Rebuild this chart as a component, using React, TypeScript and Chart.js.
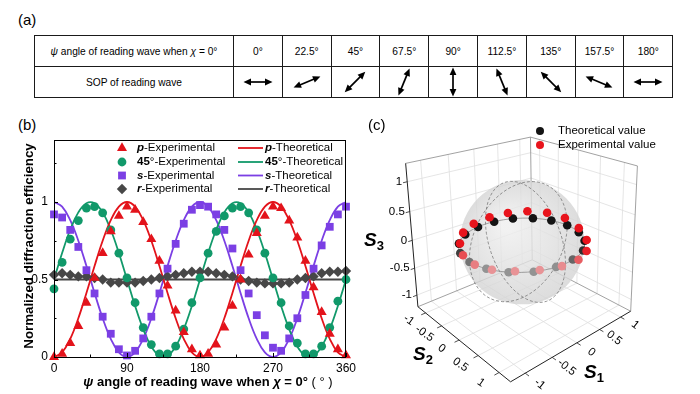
import React, { useEffect, useRef } from "react";
import { Chart, registerables } from "chart.js";

Chart.register(...registerables);

const FONT = "'Liberation Sans', Arial, Helvetica, sans-serif";

// ---------------- (a) table ----------------
const tablePsiLabels = ["0°", "22.5°", "45°", "67.5°", "90°", "112.5°", "135°", "157.5°", "180°"];
const tableSopDeg = [0, 22.5, 45, 67.5, 90, 112.5, 135, 157.5, 180];

// ---------------- (b) diffraction efficiency ----------------
const psiDeg = [0, 10, 20, 30, 40, 50, 60, 70, 80, 90, 100, 110, 120, 130, 140, 150, 160, 170, 180, 190, 200, 210, 220, 230, 240, 250, 260, 270, 280, 290, 300, 310, 320, 330, 340, 350, 360];
const pExp = [0.0, 0.02, 0.09, 0.2, 0.35, 0.51, 0.67, 0.81, 0.91, 0.97, 0.95, 0.87, 0.76, 0.62, 0.46, 0.3, 0.16, 0.05, 0.01, 0.02, 0.08, 0.19, 0.33, 0.5, 0.66, 0.8, 0.91, 0.97, 0.96, 0.88, 0.77, 0.62, 0.45, 0.29, 0.15, 0.05, 0.01];
const d45Exp = [0.44, 0.61, 0.76, 0.88, 0.96, 0.97, 0.93, 0.82, 0.67, 0.51, 0.35, 0.19, 0.08, 0.02, 0.02, 0.07, 0.18, 0.35, 0.51, 0.67, 0.81, 0.91, 0.96, 0.97, 0.93, 0.82, 0.67, 0.51, 0.35, 0.2, 0.09, 0.02, 0.02, 0.07, 0.19, 0.36, 0.5];
const sExp = [0.92, 0.9, 0.82, 0.71, 0.56, 0.41, 0.26, 0.15, 0.05, 0.01, 0.04, 0.12, 0.26, 0.41, 0.57, 0.73, 0.86, 0.95, 0.98, 0.97, 0.92, 0.82, 0.7, 0.56, 0.41, 0.27, 0.14, 0.06, 0.04, 0.12, 0.25, 0.4, 0.57, 0.72, 0.84, 0.92, 0.97];
const rExp = [0.53, 0.54, 0.53, 0.52, 0.52, 0.51, 0.5, 0.48, 0.48, 0.48, 0.48, 0.49, 0.5, 0.51, 0.52, 0.53, 0.54, 0.55, 0.55, 0.55, 0.54, 0.53, 0.52, 0.5, 0.49, 0.48, 0.475, 0.475, 0.475, 0.48, 0.5, 0.51, 0.52, 0.54, 0.55, 0.55, 0.555];
const pTheo = [0, 0.03, 0.117, 0.25, 0.413, 0.587, 0.75, 0.883, 0.97, 1, 0.97, 0.883, 0.75, 0.587, 0.413, 0.25, 0.117, 0.03, 0, 0.03, 0.117, 0.25, 0.413, 0.587, 0.75, 0.883, 0.97, 1, 0.97, 0.883, 0.75, 0.587, 0.413, 0.25, 0.117, 0.03, 0];
const d45Theo = [0.5, 0.671, 0.821, 0.933, 0.992, 0.992, 0.933, 0.821, 0.671, 0.5, 0.329, 0.179, 0.067, 0.008, 0.008, 0.067, 0.179, 0.329, 0.5, 0.671, 0.821, 0.933, 0.992, 0.992, 0.933, 0.821, 0.671, 0.5, 0.329, 0.179, 0.067, 0.008, 0.008, 0.067, 0.179, 0.329, 0.5];
const sTheo = [1, 0.97, 0.883, 0.75, 0.587, 0.413, 0.25, 0.117, 0.03, 0, 0.03, 0.117, 0.25, 0.413, 0.587, 0.75, 0.883, 0.97, 1, 0.97, 0.883, 0.75, 0.587, 0.413, 0.25, 0.117, 0.03, 0, 0.03, 0.117, 0.25, 0.413, 0.587, 0.75, 0.883, 0.97, 1];
const rTheoPsi = [0, 360];
const rTheo = [0.5, 0.5];
const xTicksB = [0, 90, 180, 270, 360];
const yTicksB = [0, 0.5, 1];

// ---------------- (c) Poincaré sphere ----------------
const theoS1 = [1, 0.94, 0.77, 0.5, 0.17, -0.17, -0.5, -0.77, -0.94, -1, -0.94, -0.77, -0.5, -0.17, 0.17, 0.5, 0.77, 0.94];
const theoS2 = [0, 0.34, 0.64, 0.87, 0.98, 0.98, 0.87, 0.64, 0.34, 0, -0.34, -0.64, -0.87, -0.98, -0.98, -0.87, -0.64, -0.34];
const theoS3 = [0, 0, 0, 0, 0, 0, 0, 0, 0, 0, 0, 0, 0, 0, 0, 0, 0, 0];
const expS1 = [1.03, 1.01, 0.86, 0.6, 0.27, -0.09, -0.43, -0.71, -0.9, -0.97, -0.95, -0.8, -0.57, -0.26, 0.09, 0.43, 0.72, 0.93];
const expS2 = [-0.09, 0.27, 0.6, 0.85, 1.0, 1.02, 0.92, 0.71, 0.42, 0.09, -0.25, -0.56, -0.82, -0.97, -1.0, -0.92, -0.73, -0.44];
const expS3 = [0.1, 0.03, -0.03, -0.05, -0.03, 0.0, 0.02, 0.02, 0.0, -0.02, 0.0, 0.04, 0.07, 0.09, 0.1, 0.11, 0.12, 0.12];
const axisTicksC = [-1, -0.5, 0, 0.5, 1];
const axisTickLabelsC = ["-1", "-0.5", "0", "0.5", "1"];

const COL = { p: "#e3131b", g: "#11996a", s: "#7b3fe4", r: "#474747" };

// ---------------- helpers ----------------
type Seg = { t: string; f: string };
function drawSegs(ctx: CanvasRenderingContext2D, segs: Seg[], x: number, y: number, align: "left" | "center") {
  ctx.textAlign = "left";
  ctx.textBaseline = "middle";
  let w = 0;
  for (const s of segs) {
    ctx.font = s.f;
    w += ctx.measureText(s.t).width;
  }
  let cx = align === "center" ? x - w / 2 : x;
  for (const s of segs) {
    ctx.font = s.f;
    ctx.fillText(s.t, cx, y);
    cx += ctx.measureText(s.t).width;
  }
}

// perspective camera of panel (c), canvas coordinates
const CAM = { theta: 42.8, phi: 16.55, focal: 539, cx: 0.541, cy: 7.68, cz: 3.615, px: 196.7, py: 49.8 };
const BOX = { b: 1.255, z0: -1.22, z1: 1.3 };
function project(x: number, y: number, z: number) {
  const th = (CAM.theta * Math.PI) / 180;
  const ph = (CAM.phi * Math.PI) / 180;
  const xr = x * Math.cos(th) + y * Math.sin(th);
  const yr = -x * Math.sin(th) + y * Math.cos(th);
  const rx = xr - CAM.cx, ry = yr - CAM.cy, rz = z - CAM.cz;
  const depth = -ry * Math.cos(ph) - rz * Math.sin(ph);
  const up = -ry * Math.sin(ph) + rz * Math.cos(ph);
  return {
    x: CAM.px + (CAM.focal * rx) / depth,
    y: CAM.py - (CAM.focal * up) / depth,
    front: yr,
    dist: Math.sqrt(rx * rx + ry * ry + rz * rz),
  };
}

function mix(rgb: number[], to: number[], t: number) {
  const c = rgb.map((v, i) => Math.round(v + (to[i] - v) * t));
  return `rgb(${c[0]},${c[1]},${c[2]})`;
}

// ---------------- (b) config ----------------
function drawMarker(ctx: CanvasRenderingContext2D, kind: string, x: number, y: number, color: string) {
  ctx.fillStyle = color;
  ctx.beginPath();
  if (kind === "triangle") {
    const r = 5.8;
    ctx.moveTo(x, y - r);
    ctx.lineTo(x + r * 0.866, y + r * 0.5);
    ctx.lineTo(x - r * 0.866, y + r * 0.5);
  } else if (kind === "circle") {
    ctx.arc(x, y, 4.4, 0, Math.PI * 2);
  } else if (kind === "rect") {
    ctx.rect(x - 3.9, y - 3.9, 7.8, 7.8);
  } else {
    const r = 5.2;
    ctx.moveTo(x, y - r);
    ctx.lineTo(x + r, y);
    ctx.lineTo(x, y + r);
    ctx.lineTo(x - r, y);
  }
  ctx.closePath();
  ctx.fill();
}

function configB(): any {
  const xy = (ys: number[]) => psiDeg.map((x, i) => ({ x, y: ys[i] }));
  const expDs = (label: string, ys: number[], style: string, r: number, c: string) => ({
    label,
    data: xy(ys),
    showLine: false,
    pointStyle: style,
    pointRadius: r,
    pointBackgroundColor: c,
    pointBorderColor: c,
    pointBorderWidth: 0,
    clip: false,
  });
  const theoDs = (label: string, data: any[], c: string) => ({
    label,
    data,
    showLine: true,
    pointRadius: 0,
    borderColor: c,
    borderWidth: 1.8,
    tension: 0.4,
    fill: false,
  });
  const legendPlugin = {
    id: "legendB",
    afterDraw(chart: any) {
      const ctx: CanvasRenderingContext2D = chart.ctx;
      const { left, right, top, bottom } = chart.chartArea;
      ctx.save();
      ctx.strokeStyle = "#000";
      ctx.lineWidth = 1;
      ctx.strokeRect(left + 0.5, top + 0.5, right - left - 1, bottom - top);
      const xs = chart.scales.x, ys = chart.scales.y;
      ctx.beginPath();
      for (let v = 0; v <= 360; v += 45) {
        const px = Math.round(xs.getPixelForValue(v)) + 0.5;
        const len = v % 90 === 0 ? 4 : 2.5;
        ctx.moveTo(px, bottom);
        ctx.lineTo(px, bottom - len);
      }
      for (let v = 0; v <= 1.25; v += 0.25) {
        const py = Math.round(ys.getPixelForValue(v)) + 0.5;
        const len = Math.abs((v * 2) % 1) < 1e-6 ? 4 : 2.5;
        ctx.moveTo(left, py);
        ctx.lineTo(left + len, py);
      }
      ctx.stroke();
      ctx.fillStyle = "#000";
      const rowsY = [38, 52, 65.5, 79];
      const reg = `11.5px ${FONT}`;
      const bi = `italic bold 11.5px ${FONT}`;
      const bo = `bold 11.5px ${FONT}`;
      const rows = [
        { kind: "triangle", c: COL.p, segs: [{ t: "p", f: bi }] },
        { kind: "circle", c: COL.g, segs: [{ t: "45", f: bo }, { t: "°", f: reg }] },
        { kind: "rect", c: COL.s, segs: [{ t: "s", f: bi }] },
        { kind: "diamond", c: COL.r, segs: [{ t: "r", f: bi }] },
      ];
      rows.forEach((row, i) => {
        const y = rowsY[i];
        drawMarker(ctx, row.kind, 122, y, row.c);
        ctx.fillStyle = "#000";
        drawSegs(ctx, [...row.segs, { t: "-Experimental", f: reg }], 137, y, "left");
        ctx.strokeStyle = row.c;
        ctx.lineWidth = 1.8;
        ctx.beginPath();
        ctx.moveTo(238, y);
        ctx.lineTo(263, y);
        ctx.stroke();
        ctx.fillStyle = "#000";
        drawSegs(ctx, [...row.segs, { t: "-Theoretical", f: reg }], 265, y, "left");
      });
      ctx.fillStyle = "#000";
      const tb = `bold 13px ${FONT}`;
      const tbi = `italic bold 13px ${FONT}`;
      drawSegs(
        ctx,
        [
          { t: "ψ", f: tbi },
          { t: " angle of reading wave when ", f: tb },
          { t: "χ", f: tbi },
          { t: " = 0°", f: tb },
          { t: " ( ° )", f: `13px ${FONT}` },
        ],
        208,
        272,
        "center"
      );
      ctx.save();
      ctx.translate(29, 136);
      ctx.rotate(-Math.PI / 2);
      drawSegs(ctx, [{ t: "Normalized diffraction efficiency", f: `bold 13.3px ${FONT}` }], 0, 0, "center");
      ctx.restore();
      ctx.restore();
    },
  };
  return {
    type: "scatter",
    data: {
      datasets: [
        expDs("p-Experimental", pExp, "triangle", 5.8, COL.p),
        expDs("45°-Experimental", d45Exp, "circle", 4.4, COL.g),
        expDs("s-Experimental", sExp, "rect", 5.5, COL.s),
        expDs("r-Experimental", rExp, "rectRot", 5.2, COL.r),
        theoDs("p-Theoretical", xy(pTheo), COL.p),
        theoDs("45°-Theoretical", xy(d45Theo), COL.g),
        theoDs("s-Theoretical", xy(sTheo), COL.s),
        theoDs("r-Theoretical", rTheoPsi.map((x, i) => ({ x, y: rTheo[i] })), COL.r),
      ],
    },
    options: {
      responsive: false,
      animation: false,
      events: [],
      layout: { padding: { top: 30, right: 12, left: 0, bottom: 0 } },
      plugins: { legend: { display: false }, tooltip: { enabled: false } },
      scales: {
        x: {
          type: "linear",
          min: 0,
          max: 360,
          afterBuildTicks: (s: any) => {
            s.ticks = xTicksB.map((v) => ({ value: v }));
          },
          ticks: { font: { family: FONT, size: 12 }, color: "#000", padding: 4, maxRotation: 0 },
          grid: { display: false, drawTicks: false },
          border: { display: false },
          afterFit: (s: any) => {
            s.height = 37;
          },
        },
        y: {
          type: "linear",
          min: 0,
          max: 1.4,
          afterBuildTicks: (s: any) => {
            s.ticks = yTicksB.map((v) => ({ value: v }));
          },
          ticks: { font: { family: FONT, size: 12 }, color: "#000", padding: 6, callback: (v: any) => String(v) },
          grid: { display: false, drawTicks: false },
          border: { display: false },
          afterFit: (s: any) => {
            s.width = 54;
          },
        },
      },
    },
    plugins: [legendPlugin],
  };
}

// ---------------- (c) config ----------------
function configC(): any {
  const { b: B, z0: Z0, z1: Z1 } = BOX;
  const NaNPt = { x: NaN, y: NaN };
  const seg = (list: any[], a: number[], c: number[]) => {
    const p = project(a[0], a[1], a[2]);
    const q = project(c[0], c[1], c[2]);
    list.push({ x: p.x, y: p.y }, { x: q.x, y: q.y }, NaNPt);
  };
  const grid: any[] = [];
  for (const g of axisTicksC) {
    seg(grid, [g, -B, Z0], [g, B, Z0]);
    seg(grid, [-B, g, Z0], [B, g, Z0]);
    seg(grid, [g, -B, Z0], [g, -B, Z1]);
    seg(grid, [-B, -B, g], [B, -B, g]);
    seg(grid, [B, g, Z0], [B, g, Z1]);
    seg(grid, [B, -B, g], [B, B, g]);
  }
  const edges: any[] = [];
  seg(edges, [-B, -B, Z1], [B, -B, Z1]);
  seg(edges, [B, -B, Z1], [B, B, Z1]);
  seg(edges, [B, -B, Z0], [B, -B, Z1]);
  seg(edges, [B, B, Z0], [B, B, Z1]);
  seg(edges, [-B, -B, Z0], [B, -B, Z0]);
  seg(edges, [B, -B, Z0], [B, B, Z0]);
  const axes: any[] = [];
  seg(axes, [-B, -B, Z0], [-B, -B, Z1]);
  seg(axes, [-B, -B, Z0], [-B, B, Z0]);
  seg(axes, [-B, B, Z0], [B, B, Z0]);
  const ticks: any[] = [];
  for (const g of axisTicksC) {
    seg(ticks, [-B, -B, g], [-B - 0.07, -B, g]);
    seg(ticks, [-B, g, Z0], [-B - 0.08, g, Z0]);
    seg(ticks, [g, B, Z0], [g, B + 0.08, Z0]);
  }
  const merid: any[] = [];
  const equator: any[] = [];
  for (let k = 0; k <= 72; k++) {
    const t = (k * 5 * Math.PI) / 180;
    const p = project(Math.cos(t), 0, Math.sin(t));
    merid.push({ x: p.x, y: p.y });
  }
  merid.push(NaNPt);
  for (let k = 0; k <= 72; k++) {
    const t = (k * 5 * Math.PI) / 180;
    const p = project(0, Math.cos(t), Math.sin(t));
    merid.push({ x: p.x, y: p.y });
    const e = project(Math.cos(t), Math.sin(t), 0);
    equator.push({ x: e.x, y: e.y });
  }
  const pts = (s1: number[], s2: number[], s3: number[], base: number[]) => {
    const data: any[] = [];
    const colors: string[] = [];
    s1.forEach((v, i) => {
      const p = project(v, s2[i], s3[i]);
      data.push({ x: p.x, y: p.y });
      const fade = Math.max(0, Math.min(1, (p.front - 0.15) / 0.7)) * 0.6;
      colors.push(mix(base, [232, 232, 232], fade));
    });
    return { data, colors };
  };
  const theo = pts(theoS1, theoS2, theoS3, [20, 20, 20]);
  const exp = pts(expS1, expS2, expS3, [232, 20, 28]);
  const lineDs = (data: any[], color: string, width: number, dash: number[] = []) => ({
    data,
    showLine: true,
    pointRadius: 0,
    borderColor: color,
    borderWidth: width,
    borderDash: dash,
    spanGaps: false,
    tension: 0,
  });
  const SPHERE_AFTER = 6;
  const plugin = {
    id: "poincare",
    afterDatasetDraw(chart: any, args: any) {
      if (args.index !== SPHERE_AFTER) return;
      const ctx: CanvasRenderingContext2D = chart.ctx;
      const xs = chart.scales.x, ys = chart.scales.y;
      const c = project(0, 0, 0);
      const px = xs.getPixelForValue(c.x);
      const py = ys.getPixelForValue(c.y);
      const r = xs.getPixelForValue(c.x + CAM.focal / Math.sqrt(c.dist * c.dist - 1)) - px;
      ctx.save();
      const g = ctx.createRadialGradient(px - r * 0.25, py - r * 0.3, r * 0.1, px, py, r);
      g.addColorStop(0, "rgba(238,238,238,0.8)");
      g.addColorStop(1, "rgba(212,212,212,0.8)");
      ctx.fillStyle = g;
      ctx.beginPath();
      ctx.arc(px, py, r, 0, Math.PI * 2);
      ctx.fill();
      ctx.restore();
    },
    afterDraw(chart: any) {
      const ctx: CanvasRenderingContext2D = chart.ctx;
      const xs = chart.scales.x, ys = chart.scales.y;
      const P = (x: number, y: number, z: number) => {
        const p = project(x, y, z);
        return { x: xs.getPixelForValue(p.x), y: ys.getPixelForValue(p.y) };
      };
      ctx.save();
      ctx.fillStyle = "#000";
      ctx.textBaseline = "middle";
      ctx.font = `11.5px ${FONT}`;
      axisTicksC.forEach((g, i) => {
        const lab = axisTickLabelsC[i];
        const a = P(-B, -B, g);
        ctx.textAlign = "right";
        ctx.fillText(lab, a.x - 5, a.y);
        const s2 = P(-B - 0.3, g, Z0);
        ctx.save();
        ctx.translate(s2.x, s2.y);
        ctx.rotate((35 * Math.PI) / 180);
        ctx.textAlign = "center";
        ctx.fillText(lab, 0, 0);
        ctx.restore();
        const s1 = P(g, B + 0.3, Z0);
        ctx.save();
        ctx.translate(s1.x, s1.y);
        ctx.rotate((38 * Math.PI) / 180);
        ctx.textAlign = "center";
        ctx.fillText(lab, 0, 0);
        ctx.restore();
      });
      const title = (n: string, x: number, y: number) => {
        ctx.textAlign = "left";
        ctx.textBaseline = "alphabetic";
        ctx.font = `italic bold 19px ${FONT}`;
        ctx.fillText("S", x, y);
        const w = ctx.measureText("S").width;
        ctx.font = `bold 13px ${FONT}`;
        ctx.fillText(n, x + w, y + 4);
      };
      title("3", 4, 136);
      title("2", 53, 250);
      title("1", 224, 268);
      ctx.textBaseline = "middle";
      ctx.textAlign = "left";
      ctx.font = `11.5px ${FONT}`;
      ctx.fillStyle = "#141414";
      ctx.beginPath();
      ctx.arc(180, 21, 4, 0, Math.PI * 2);
      ctx.fill();
      ctx.fillStyle = "#e8141c";
      ctx.beginPath();
      ctx.arc(180, 35, 4, 0, Math.PI * 2);
      ctx.fill();
      ctx.fillStyle = "#000";
      ctx.fillText("Theoretical value", 198, 21);
      ctx.fillText("Experimental value", 198, 35);
      ctx.restore();
    },
  };
  return {
    type: "scatter",
    data: {
      datasets: [
        { data: exp.data, pointRadius: 4.3, pointBackgroundColor: exp.colors, pointBorderWidth: 0, showLine: false },
        { data: theo.data, pointRadius: 4.3, pointBackgroundColor: theo.colors, pointBorderWidth: 0, showLine: false },
        lineDs(equator, "#8c8c8c", 0.8),
        lineDs(merid, "#7a7a7a", 0.8, [3, 2]),
        lineDs(axes, "#222", 1),
        lineDs(ticks, "#222", 0.8),
        lineDs(edges, "#8a8a8a", 0.8),
        lineDs(grid, "#dedede", 0.8),
      ],
    },
    options: {
      responsive: false,
      animation: false,
      events: [],
      layout: { padding: 0 },
      plugins: { legend: { display: false }, tooltip: { enabled: false } },
      scales: {
        x: { type: "linear", min: 0, max: 340, display: false },
        y: { type: "linear", min: 0, max: 284, reverse: true, display: false },
      },
    },
    plugins: [plugin],
  };
}

function SopArrow({ deg }: { deg: number }) {
  return (
    <svg width="36" height="30" viewBox="-18 -15 36 30" style={{ display: "block", margin: "0 auto" }}>
      <g transform={`rotate(${-deg})`}>
        <line x1={-9} y1={0} x2={9} y2={0} stroke="#000" strokeWidth={1.7} />
        <polygon points="-14.5,0 -7,-3.4 -7,3.4" fill="#000" />
        <polygon points="14.5,0 7,-3.4 7,3.4" fill="#000" />
      </g>
    </svg>
  );
}

export default function App() {
  const refB = useRef<HTMLCanvasElement>(null);
  const refC = useRef<HTMLCanvasElement>(null);
  useEffect(() => {
    const cb = new Chart(refB.current as HTMLCanvasElement, configB());
    const cc = new Chart(refC.current as HTMLCanvasElement, configC());
    return () => {
      cb.destroy();
      cc.destroy();
    };
  }, []);
  const cell: React.CSSProperties = {
    border: "1.6px solid #1a1a1a",
    textAlign: "center",
    verticalAlign: "middle",
    padding: 0,
    height: 30,
    fontSize: "10.2px",
    fontFamily: FONT,
    color: "#000",
  };
  const panelLabel: React.CSSProperties = { position: "absolute", fontFamily: FONT, fontSize: 15, lineHeight: "15px", color: "#000" };
  return (
    <div style={{ position: "fixed", left: 0, top: 0, width: 700, height: 394, background: "#fff", overflow: "hidden" }}>
      <div style={{ ...panelLabel, left: 18, top: 12 }}>(a)</div>
      <table
        style={{
          position: "absolute",
          left: 34,
          top: 35,
          width: 638,
          borderCollapse: "collapse",
          tableLayout: "fixed",
        }}
      >
        <colgroup>
          <col style={{ width: 199 }} />
          {tablePsiLabels.map((l) => (
            <col key={l} style={{ width: 48.8 }} />
          ))}
        </colgroup>
        <tbody>
          <tr>
            <td style={cell}>
              <i>ψ</i> angle of reading wave when <i>χ</i> = 0°
            </td>
            {tablePsiLabels.map((l) => (
              <td key={l} style={cell}>
                {l}
              </td>
            ))}
          </tr>
          <tr>
            <td style={cell}>SOP of reading wave</td>
            {tableSopDeg.map((d) => (
              <td key={d} style={cell}>
                <SopArrow deg={d} />
              </td>
            ))}
          </tr>
        </tbody>
      </table>
      <div style={{ ...panelLabel, left: 18, top: 117 }}>(b)</div>
      <canvas ref={refB} width={360} height={284} style={{ position: "absolute", left: 0, top: 110, width: 360, height: 284 }} />
      <canvas ref={refC} width={340} height={284} style={{ position: "absolute", left: 360, top: 110, width: 340, height: 284 }} />
      <div style={{ ...panelLabel, left: 368, top: 117 }}>(c)</div>
    </div>
  );
}
